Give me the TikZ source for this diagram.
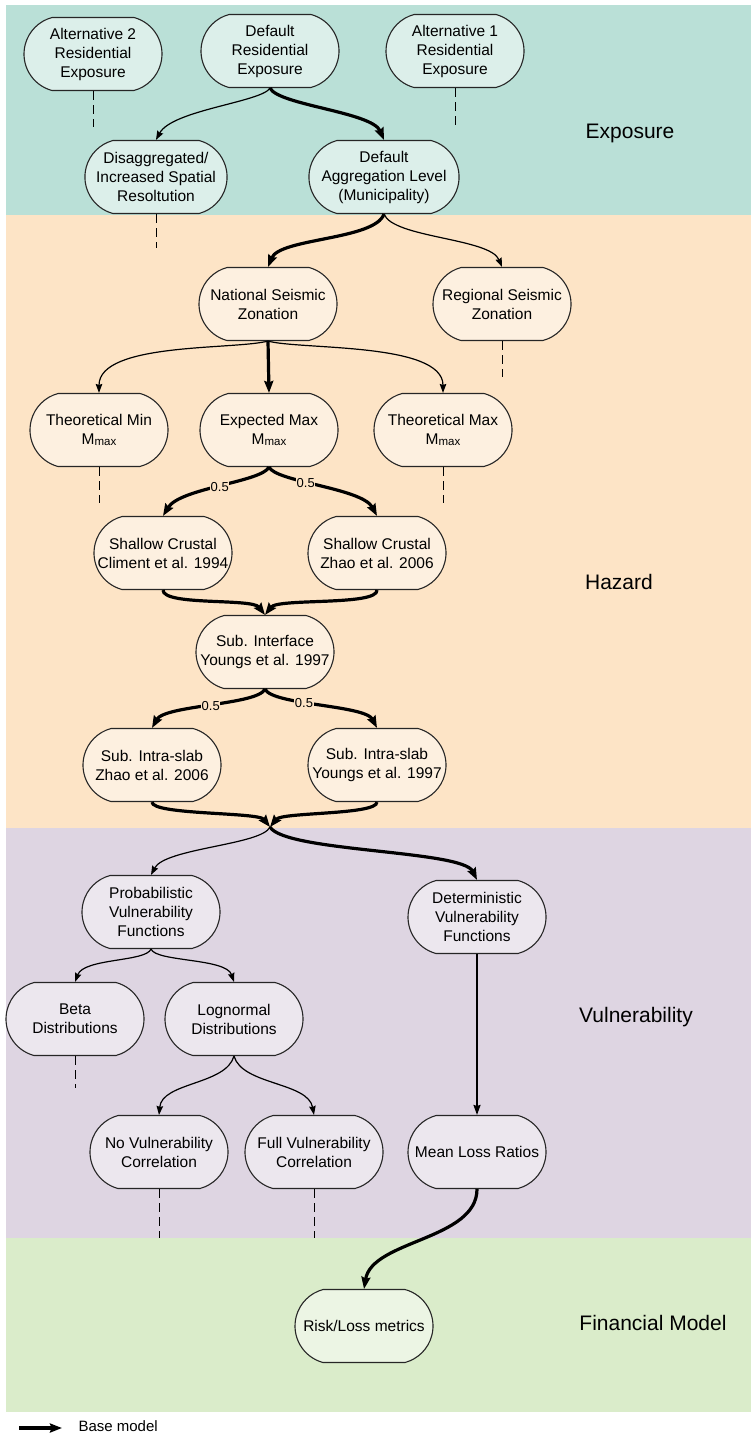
\documentclass[tikz,border=0pt]{standalone}
\usepackage{fontspec}
\setmainfont{Liberation Sans}
\usetikzlibrary{shapes.misc,arrows.meta}
\definecolor{expband}{RGB}{186,224,215}
\definecolor{expnode}{RGB}{220,239,234}
\definecolor{hazband}{RGB}{253,228,198}
\definecolor{haznode}{RGB}{253,240,224}
\definecolor{vulband}{RGB}{222,213,226}
\definecolor{vulnode}{RGB}{236,231,238}
\definecolor{finband}{RGB}{218,236,202}
\definecolor{finnode}{RGB}{236,245,228}
\newcommand\Mmaxtxt{M\raisebox{-1.5pt}{\fontsize{11.5}{12}\selectfont max}}
\begin{document}
\begin{tikzpicture}[x=1pt,y=-1pt,
  box/.style={rounded rectangle, rounded rectangle arc length=150, draw=black!85, line width=1.1pt,
    minimum width=142pt, minimum height=73pt, inner sep=2pt, align=center,
    font=\fontsize{15.5}{19}\selectfont},
  ebox/.style={box, fill=expnode},
  hbox/.style={box, fill=haznode},
  vbox/.style={box, fill=vulnode},
  fbox/.style={box, fill=finnode},
  minor/.style={line width=1.2pt, -{Stealth[length=9pt,width=6.5pt,inset=1pt]}},
  midarrow/.style={line width=1.7pt, -{Stealth[length=10pt,width=7pt,inset=1pt]}},
  base/.style={line width=3.2pt, -{Stealth[length=12pt,width=9pt,inset=1.5pt]}},
  dashline/.style={line width=1pt, dash pattern=on 9pt off 5pt},
  bandlabel/.style={font=\fontsize{21}{25}\selectfont},
  wlabel/.style={font=\fontsize{13}{15}\selectfont, fill=hazband, inner sep=0.6pt},
]
\useasboundingbox (0,0) rectangle (751,1434);
\fill[white] (0,0) rectangle (751,1434);
% bands
\fill[expband] (6,5) rectangle (751,215);
\fill[hazband] (6,215) rectangle (751,828);
\fill[vulband] (6,828) rectangle (751,1238);
\fill[finband] (6,1238) rectangle (751,1412);
% band labels
\node[bandlabel] (expl) at (630,133) {Exposure};
\node[bandlabel] (hazl) at (619,582) {Hazard};
\node[bandlabel] (vull) at (636,1017) {Vulnerability};
\node[bandlabel] (finl) at (653,1323) {Financial Model};
% exposure nodes
\node[ebox] (alt2) at (93,54) {Alternative 2\\Residential\\Exposure};
\node[ebox] (defres) at (270,51) {Default\\Residential\\Exposure};
\node[ebox] (alt1) at (455,51) {Alternative 1\\Residential\\Exposure};
\node[ebox] (disagg) at (156,177) {Disaggregated/\\Increased Spatial\\Resoltution};
\node[ebox] (defagg) at (384,177) {Default\\Aggregation Level\\(Municipality)};
% hazard nodes
\node[hbox] (national) at (268,304) {National Seismic\\Zonation};
\node[hbox] (regional) at (502,304) {Regional Seismic\\Zonation};
\node[hbox] (tmin) at (99,430) {Theoretical Min\\\Mmaxtxt};
\node[hbox] (emax) at (269,430) {Expected Max\\\Mmaxtxt};
\node[hbox] (tmax) at (443,430) {Theoretical Max\\\Mmaxtxt};
\node[hbox] (climent) at (163,553) {Shallow Crustal\\Climent et al. 1994};
\node[hbox] (szhao) at (377,553) {Shallow Crustal\\Zhao et al. 2006};
\node[hbox] (subint) at (265,652) {Sub. Interface\\Youngs et al. 1997};
\node[hbox] (izhao) at (152,765) {Sub. Intra-slab\\Zhao et al. 2006};
\node[hbox] (iyoungs) at (377,765) {Sub. Intra-slab\\Youngs et al. 1997};
% vulnerability nodes
\node[vbox] (prob) at (151,912) {Probabilistic\\Vulnerability\\Functions};
\node[vbox] (det) at (477,917) {Deterministic\\Vulnerability\\Functions};
\node[vbox] (beta) at (75,1019) {Beta\\Distributions};
\node[vbox] (logn) at (234,1019) {Lognormal\\Distributions};
\node[vbox] (novuln) at (159,1152) {No Vulnerability\\Correlation};
\node[vbox] (fullvuln) at (314,1152) {Full Vulnerability\\Correlation};
\node[vbox] (mean) at (477,1152) {Mean Loss Ratios};
% financial
\node[fbox] (risk) at (364,1326) {Risk/Loss metrics};
% dashed stubs
\coordinate (d1) at (93,127);
\coordinate (d2) at (455,127);
\coordinate (d3) at (156,248);
\coordinate (d4) at (502,377);
\coordinate (d5) at (99,503);
\coordinate (d6) at (443,503);
\coordinate (d7) at (75,1088);
\coordinate (d8) at (159,1238);
\coordinate (d9) at (314,1238);
\draw[dashline] (alt2.south) -- (d1);
\draw[dashline] (alt1.south) -- (d2);
\draw[dashline] (disagg.south) -- (d3);
\draw[dashline] (regional.south) -- (d4);
\draw[dashline] (tmin.south) -- (d5);
\draw[dashline] (tmax.south) -- (d6);
\draw[dashline] (beta.south) -- (d7);
\draw[dashline] (novuln.south) -- (d8);
\draw[dashline] (fullvuln.south) -- (d9);
% connectors
\draw[minor] (defres.south) .. controls (262,102) and (172,110) .. (disagg.north);
\draw[base] (defres.south) .. controls (278,105) and (372,112) .. (defagg.north);
\draw[base] (defagg.south) .. controls (375,240) and (280,238) .. (national.north);
\draw[minor] (defagg.south) .. controls (393,238) and (490,238) .. (regional.north);
\draw[minor] (national.south) .. controls (235,350) and (99,342) .. (tmin.north);
\draw[base] (national.south) -- (emax.north);
\draw[minor] (national.south) .. controls (300,350) and (443,342) .. (tmax.north);
\draw[base] (emax.south) .. controls (262,482) and (180,488) .. (climent.north)
  node[wlabel, pos=0.5] (w1) {0.5};
\draw[base] (emax.south) .. controls (276,482) and (362,488) .. (szhao.north)
  node[wlabel, pos=0.4] (w2) {0.5};
\draw[base] (climent.south) .. controls (163,606) and (252,598) .. (subint.north);
\draw[base] (szhao.south) .. controls (378,606) and (278,598) .. (subint.north);
\draw[base] (subint.south) .. controls (258,705) and (165,705) .. (izhao.north)
  node[wlabel, pos=0.5] (w3) {0.5};
\draw[base] (subint.south) .. controls (272,705) and (365,705) .. (iyoungs.north)
  node[wlabel, pos=0.4] (w4) {0.5};
\coordinate (j) at (270,827);
\draw[base] (izhao.south) .. controls (152,815) and (258,812) .. (j);
\draw[base] (iyoungs.south) .. controls (377,815) and (282,812) .. (j);
\draw[minor] (j) .. controls (262,845) and (165,848) .. (prob.north);
\draw[base] (j) .. controls (285,852) and (462,850) .. (det.north);
\draw[minor] (prob.south) .. controls (146,962) and (84,958) .. (beta.north);
\draw[minor] (prob.south) .. controls (156,962) and (226,958) .. (logn.north);
\draw[minor] (logn.south) .. controls (226,1085) and (162,1082) .. (novuln.north);
\draw[minor] (logn.south) .. controls (242,1085) and (308,1082) .. (fullvuln.north);
\draw[midarrow] (det.south) -- (mean.north);
\draw[base] (mean.south) .. controls (477,1240) and (372,1240) .. (risk.north);
% legend
\coordinate (la) at (19,1428);
\coordinate (lb) at (62,1428);
\draw[base] (la) -- (lb);
\node[anchor=west, font=\fontsize{15}{18}\selectfont] (legtxt) at (75,1426) {Base model};
\end{tikzpicture}
\end{document}
